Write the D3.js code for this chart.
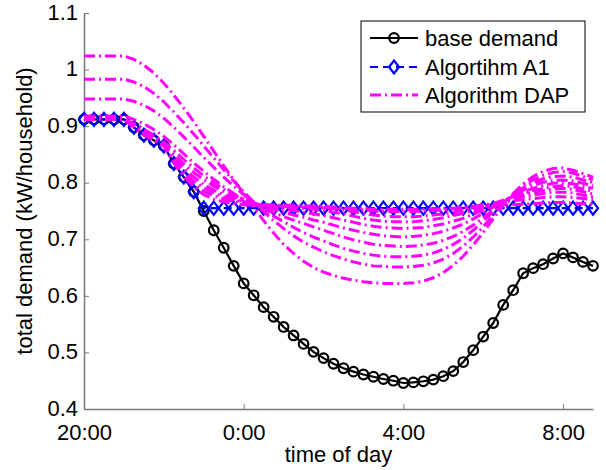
<!DOCTYPE html>
<html>
<head>
<meta charset="utf-8">
<script src="https://cdn.jsdelivr.net/npm/d3@7"></script>
<style>
  body { margin: 0; background: #fff; }
  text { font-family: "Liberation Sans", Arial, sans-serif; fill: #000; }
  .axis path, .axis line { stroke: #777; }
</style>
</head>
<body>
<div id="chart-area"></div>
<script>

// samples every 15 min starting at 20:00
let stepHours = 0.25;

let baseDemand = [
	0.912, 0.912, 0.912, 0.912, 0.912, 0.898, 0.884, 0.875, 0.865, 0.834,
	0.810, 0.784, 0.750, 0.716, 0.685, 0.653, 0.622, 0.601, 0.580, 0.563,
	0.545, 0.530, 0.515, 0.501, 0.490, 0.480, 0.472, 0.466, 0.461, 0.457,
	0.453, 0.450, 0.446, 0.447, 0.449, 0.452, 0.458, 0.467, 0.483, 0.504,
	0.528, 0.552, 0.584, 0.610, 0.640, 0.649, 0.656, 0.666, 0.675, 0.668,
	0.660, 0.653
];

let algoA1 = [
	0.912, 0.912, 0.912, 0.912, 0.912, 0.898, 0.884, 0.875, 0.865, 0.834,
	0.810, 0.784, 0.755, 0.755, 0.755, 0.755, 0.755, 0.755, 0.755, 0.755,
	0.755, 0.755, 0.755, 0.755, 0.755, 0.755, 0.755, 0.755, 0.755, 0.755,
	0.755, 0.755, 0.755, 0.755, 0.755, 0.755, 0.755, 0.755, 0.755, 0.755,
	0.755, 0.755, 0.755, 0.755, 0.755, 0.755, 0.755, 0.755, 0.755, 0.755,
	0.755, 0.755
];

// Algorithm DAP, one array per run
let dap1 = [
	1.024, 1.024, 1.024, 1.024, 1.024, 1.018, 1.008, 0.994, 0.976, 0.955,
	0.932, 0.908, 0.882, 0.856, 0.830, 0.805, 0.781, 0.757, 0.733, 0.711,
	0.691, 0.675, 0.661, 0.650, 0.642, 0.636, 0.631, 0.628, 0.625, 0.623,
	0.622, 0.622, 0.622, 0.623, 0.626, 0.632, 0.641, 0.654, 0.670, 0.690,
	0.712, 0.736, 0.760, 0.781, 0.798, 0.811, 0.820, 0.825, 0.826, 0.822,
	0.816, 0.810
];
let dap2 = [
	0.983, 0.983, 0.983, 0.983, 0.983, 0.978, 0.970, 0.958, 0.943, 0.925,
	0.906, 0.886, 0.865, 0.844, 0.823, 0.803, 0.784, 0.766, 0.749, 0.733,
	0.719, 0.706, 0.695, 0.686, 0.678, 0.671, 0.665, 0.660, 0.656, 0.653,
	0.652, 0.651, 0.651, 0.652, 0.654, 0.658, 0.665, 0.675, 0.688, 0.704,
	0.722, 0.742, 0.762, 0.779, 0.794, 0.805, 0.813, 0.818, 0.820, 0.817,
	0.811, 0.805
];
let dap3 = [
	0.948, 0.948, 0.948, 0.948, 0.948, 0.944, 0.937, 0.927, 0.914, 0.898,
	0.881, 0.863, 0.845, 0.827, 0.810, 0.794, 0.779, 0.765, 0.752, 0.741,
	0.731, 0.721, 0.712, 0.704, 0.697, 0.690, 0.684, 0.679, 0.675, 0.672,
	0.670, 0.669, 0.669, 0.670, 0.672, 0.676, 0.682, 0.691, 0.702, 0.716,
	0.732, 0.749, 0.765, 0.779, 0.791, 0.800, 0.807, 0.811, 0.812, 0.810,
	0.805, 0.800
];
let dap4 = [
	0.918, 0.918, 0.918, 0.918, 0.918, 0.912, 0.904, 0.894, 0.882, 0.867,
	0.851, 0.835, 0.820, 0.806, 0.793, 0.781, 0.771, 0.762, 0.754, 0.747,
	0.740, 0.734, 0.728, 0.722, 0.716, 0.710, 0.704, 0.699, 0.695, 0.691,
	0.689, 0.688, 0.687, 0.688, 0.690, 0.693, 0.698, 0.705, 0.714, 0.725,
	0.738, 0.752, 0.765, 0.777, 0.787, 0.795, 0.801, 0.804, 0.805, 0.803,
	0.799, 0.795
];
let dap5 = [
	0.912, 0.912, 0.912, 0.912, 0.912, 0.905, 0.895, 0.884, 0.872, 0.857,
	0.841, 0.826, 0.812, 0.800, 0.789, 0.779, 0.771, 0.764, 0.758, 0.753,
	0.748, 0.743, 0.739, 0.734, 0.730, 0.725, 0.720, 0.716, 0.712, 0.709,
	0.706, 0.705, 0.704, 0.705, 0.707, 0.710, 0.714, 0.720, 0.727, 0.736,
	0.746, 0.757, 0.767, 0.776, 0.784, 0.790, 0.795, 0.799, 0.800, 0.798,
	0.794, 0.790
];
let dap6 = [
	0.912, 0.912, 0.912, 0.912, 0.912, 0.902, 0.890, 0.879, 0.866, 0.850,
	0.833, 0.818, 0.805, 0.794, 0.784, 0.776, 0.769, 0.764, 0.760, 0.757,
	0.754, 0.751, 0.748, 0.745, 0.742, 0.738, 0.734, 0.730, 0.726, 0.723,
	0.721, 0.720, 0.719, 0.720, 0.721, 0.724, 0.727, 0.732, 0.737, 0.744,
	0.752, 0.760, 0.768, 0.775, 0.781, 0.786, 0.790, 0.793, 0.795, 0.793,
	0.789, 0.785
];
let dap7 = [
	0.912, 0.912, 0.912, 0.912, 0.912, 0.900, 0.888, 0.877, 0.866, 0.845,
	0.826, 0.810, 0.797, 0.787, 0.779, 0.772, 0.767, 0.763, 0.760, 0.758,
	0.757, 0.756, 0.755, 0.753, 0.751, 0.748, 0.745, 0.741, 0.737, 0.734,
	0.732, 0.731, 0.731, 0.731, 0.733, 0.735, 0.738, 0.742, 0.746, 0.751,
	0.757, 0.763, 0.769, 0.774, 0.779, 0.783, 0.786, 0.789, 0.790, 0.788,
	0.784, 0.780
];
let dap8 = [
	0.912, 0.912, 0.912, 0.912, 0.912, 0.899, 0.886, 0.876, 0.866, 0.840,
	0.819, 0.803, 0.791, 0.782, 0.775, 0.770, 0.766, 0.763, 0.761, 0.760,
	0.759, 0.758, 0.758, 0.757, 0.756, 0.754, 0.752, 0.749, 0.746, 0.743,
	0.741, 0.740, 0.740, 0.740, 0.741, 0.743, 0.745, 0.748, 0.751, 0.755,
	0.759, 0.763, 0.767, 0.771, 0.775, 0.778, 0.781, 0.783, 0.783, 0.782,
	0.778, 0.775
];
let dap9 = [
	0.912, 0.912, 0.912, 0.912, 0.912, 0.898, 0.885, 0.875, 0.865, 0.836,
	0.814, 0.797, 0.785, 0.777, 0.771, 0.767, 0.764, 0.762, 0.761, 0.760,
	0.760, 0.760, 0.759, 0.759, 0.758, 0.757, 0.756, 0.754, 0.752, 0.750,
	0.749, 0.749, 0.749, 0.749, 0.750, 0.751, 0.752, 0.754, 0.756, 0.758,
	0.761, 0.763, 0.766, 0.768, 0.770, 0.772, 0.774, 0.775, 0.775, 0.774,
	0.772, 0.770
];
let dap10 = [
	0.912, 0.912, 0.912, 0.912, 0.912, 0.898, 0.884, 0.875, 0.865, 0.835,
	0.811, 0.792, 0.779, 0.771, 0.766, 0.763, 0.761, 0.760, 0.759, 0.758,
	0.758, 0.757, 0.757, 0.757, 0.756, 0.756, 0.755, 0.755, 0.754, 0.753,
	0.753, 0.753, 0.753, 0.753, 0.753, 0.754, 0.754, 0.755, 0.756, 0.757,
	0.758, 0.759, 0.760, 0.761, 0.762, 0.763, 0.764, 0.765, 0.765, 0.764,
	0.763, 0.762
];
let dapRuns = [dap1, dap2, dap3, dap4, dap5, dap6, dap7, dap8, dap9, dap10];

let xTicks = [0, 4, 8, 12];          // hours after 20:00
let xTickLabels = ["20:00", "0:00", "4:00", "8:00"];
let yTicks = [0.4, 0.5, 0.6, 0.7, 0.8, 0.9, 1.0, 1.1];
let legendLabels = ["base demand", "Algortihm A1", "Algorithm DAP"];


let margin = {top: 13, right: 13, bottom: 61, left: 84};
let width = 606 - margin.left - margin.right;
let height = 470 - margin.top - margin.bottom;

let svg = d3.select("#chart-area").append("svg")
	.attr("width", width + margin.left + margin.right)
	.attr("height", height + margin.top + margin.bottom)
	.append("g")
	.attr("transform", "translate(" + margin.left + "," + margin.top + ")");

// Scales
let x = d3.scaleLinear()
	.domain([0, 12.75])
	.range([0, width]);

let y = d3.scaleLinear()
	.domain([0.4, 1.1])
	.range([height, 0]);

// Axis (MATLAB style, ticks pointing inside)
let xAxis = d3.axisBottom(x)
	.tickValues(xTicks)
	.tickSize(-5)
	.tickSizeOuter(0)
	.tickFormat((d, i) => xTickLabels[i]);

let yAxis = d3.axisLeft(y)
	.tickValues(yTicks)
	.tickSize(-5)
	.tickSizeOuter(0)
	.tickFormat(d => d3.format("~g")(d));

let xAxisGroup = svg.append("g")
	.classed("axis", true)
	.attr("transform", "translate(0," + height + ")")
	.call(xAxis);

let yAxisGroup = svg.append("g")
	.classed("axis", true)
	.call(yAxis);

svg.selectAll(".axis path").attr("stroke-width", 1.5);
svg.selectAll(".axis text").style("font-size", "22px");
xAxisGroup.selectAll("text").attr("dy", "0.71em").attr("y", 15);
yAxisGroup.selectAll("text").attr("x", -6).attr("dy", "0.28em");

// Axis titles
svg.append("text")
	.attr("x", width / 2)
	.attr("y", height + 53)
	.attr("text-anchor", "middle")
	.style("font-size", "22px")
	.text("time of day");

svg.append("text")
	.attr("transform", "rotate(-90)")
	.attr("x", -height / 2)
	.attr("y", -52)
	.attr("text-anchor", "middle")
	.style("font-size", "22px")
	.text("total demand (kW/household)");

let line = d3.line()
	.x((d, i) => x(i * stepHours))
	.y(d => y(d));

let diamond = "M0,-6.5L5,0L0,6.5L-5,0Z";

// base demand
svg.append("path")
	.datum(baseDemand)
	.attr("d", line)
	.attr("fill", "none")
	.attr("stroke", "#000")
	.attr("stroke-width", 2.2);

svg.selectAll(".base-dot")
	.data(baseDemand)
	.enter()
	.append("circle")
	.classed("base-dot", true)
	.attr("cx", (d, i) => x(i * stepHours))
	.attr("cy", d => y(d))
	.attr("r", 4.8)
	.attr("fill", "none")
	.attr("stroke", "#000")
	.attr("stroke-width", 2.2);

// Algorithm A1
svg.append("path")
	.datum(algoA1)
	.attr("d", line)
	.attr("fill", "none")
	.attr("stroke", "#0000ff")
	.attr("stroke-width", 2.2)
	.attr("stroke-dasharray", "8,5");

svg.selectAll(".a1-dot")
	.data(algoA1)
	.enter()
	.append("path")
	.classed("a1-dot", true)
	.attr("d", diamond)
	.attr("transform", (d, i) => "translate(" + x(i * stepHours) + "," + y(d) + ")")
	.attr("fill", "none")
	.attr("stroke", "#0000ff")
	.attr("stroke-width", 2.2);

// Algorithm DAP runs
svg.selectAll(".dap")
	.data(dapRuns)
	.enter()
	.append("path")
	.classed("dap", true)
	.attr("d", line)
	.attr("fill", "none")
	.attr("stroke", "#ff00ff")
	.attr("stroke-width", 3)
	.attr("stroke-dasharray", "11,4,2,4");

// Legend
let legend = svg.append("g")
	.attr("transform", "translate(" + (361 - margin.left) + "," + (21 - margin.top) + ")");

legend.append("rect")
	.attr("x", 0)
	.attr("y", 0)
	.attr("width", 224)
	.attr("height", 91)
	.attr("fill", "#fff")
	.attr("stroke", "#000")
	.attr("stroke-width", 1);

let rowY = [17, 46, 74];

legend.selectAll(".legend-label")
	.data(legendLabels)
	.enter()
	.append("text")
	.classed("legend-label", true)
	.attr("x", 64)
	.attr("y", (d, i) => rowY[i])
	.attr("dy", "0.35em")
	.style("font-size", "22px")
	.text(d => d);

legend.append("line")
	.attr("x1", 9).attr("x2", 57)
	.attr("y1", rowY[0]).attr("y2", rowY[0])
	.attr("stroke", "#000").attr("stroke-width", 2.2);
legend.append("circle")
	.attr("cx", 33).attr("cy", rowY[0]).attr("r", 4.8)
	.attr("fill", "none").attr("stroke", "#000").attr("stroke-width", 2.2);

legend.append("line")
	.attr("x1", 9).attr("x2", 57)
	.attr("y1", rowY[1]).attr("y2", rowY[1])
	.attr("stroke", "#0000ff").attr("stroke-width", 2.2)
	.attr("stroke-dasharray", "8,5");
legend.append("path")
	.attr("d", diamond)
	.attr("transform", "translate(33," + rowY[1] + ")")
	.attr("fill", "none").attr("stroke", "#0000ff").attr("stroke-width", 2.2);

legend.append("line")
	.attr("x1", 9).attr("x2", 57)
	.attr("y1", rowY[2]).attr("y2", rowY[2])
	.attr("stroke", "#ff00ff").attr("stroke-width", 3)
	.attr("stroke-dasharray", "11,4,2,4");

</script>
</body>
</html>
